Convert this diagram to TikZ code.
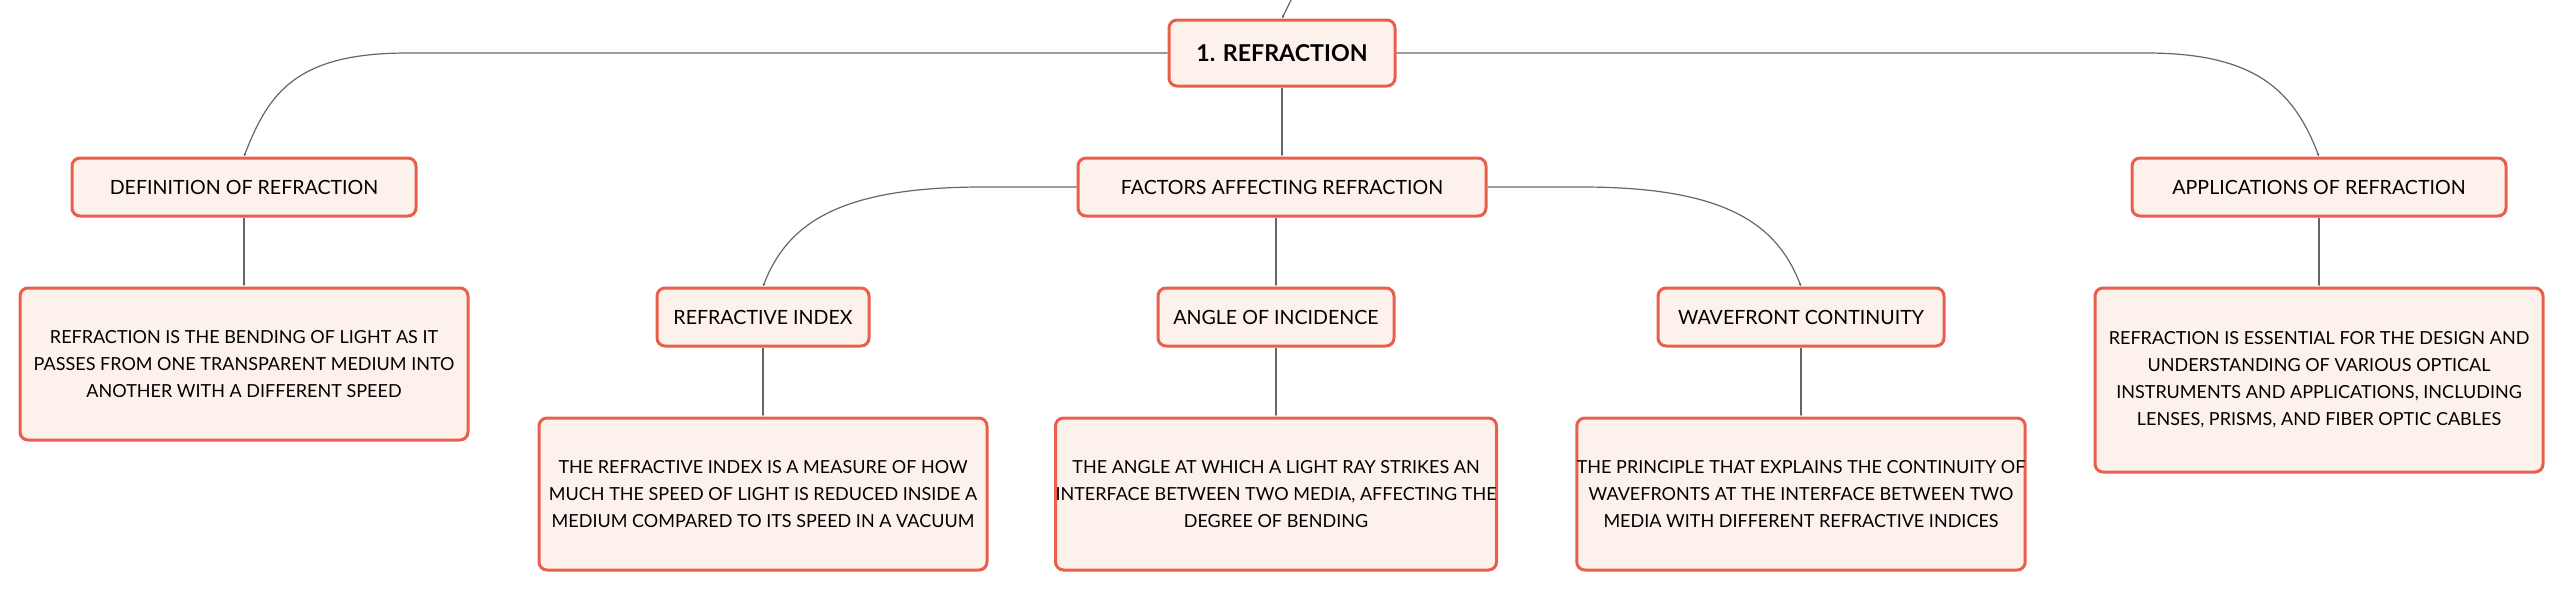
\documentclass[tikz,border=0pt]{standalone}
\usepackage{fontspec}
\setmainfont{Lato}
\usetikzlibrary{arrows.meta}
\definecolor{boxline}{HTML}{E8604C}
\definecolor{boxfill}{HTML}{FDF1EC}
\definecolor{linkgray}{HTML}{666666}
\begin{document}
\begin{tikzpicture}[x=0.5pt,y=-0.5pt,
		box/.style={draw=boxline,fill=boxfill,line width=1.5pt,rounded corners=4pt,align=center,inner sep=0pt,font=\fontsize{9}{13.5}\selectfont},
		head/.style={box,minimum height=29pt,font=\fontsize{9.8}{12}\selectfont},
		note/.style={box,minimum height=76pt},
		link/.style={draw=linkgray,line width=0.6pt,-{Latex[length=1.5pt,width=1.5pt]}}]
		\useasboundingbox (0,0) rectangle (2565,591);
		\node[box,minimum width=113pt,minimum height=33pt,font=\fontsize{11.6}{13}\selectfont\bfseries] (root) at (1282,53) {1. REFRACTION};
		\node[head,minimum width=172pt] (def) at (244,187) {DEFINITION OF REFRACTION};
		\node[head,minimum width=204pt] (fac) at (1282,187) {FACTORS AFFECTING REFRACTION};
		\node[head,minimum width=187pt] (app) at (2319,187) {APPLICATIONS OF REFRACTION};
		\node[note,minimum width=224pt] (deftxt) at (244,364) {REFRACTION IS THE BENDING OF LIGHT AS IT\\PASSES FROM ONE TRANSPARENT MEDIUM INTO\\ANOTHER WITH A DIFFERENT SPEED};
		\node[head,minimum width=106pt] (ri) at (763,317) {REFRACTIVE INDEX};
		\node[head,minimum width=118pt] (ang) at (1276,317) {ANGLE OF INCIDENCE};
		\node[head,minimum width=143pt] (wav) at (1801,317) {WAVEFRONT CONTINUITY};
		\node[note,minimum width=224pt] (ritxt) at (763,494) {THE REFRACTIVE INDEX IS A MEASURE OF HOW\\MUCH THE SPEED OF LIGHT IS REDUCED INSIDE A\\MEDIUM COMPARED TO ITS SPEED IN A VACUUM};
		\node[note,minimum width=216pt] (angtxt) at (1276,494) {THE ANGLE AT WHICH A LIGHT RAY STRIKES AN\\INTERFACE BETWEEN TWO MEDIA, AFFECTING THE\\DEGREE OF BENDING};
		\node[note,minimum width=224pt] (wavtxt) at (1801,494) {THE PRINCIPLE THAT EXPLAINS THE CONTINUITY OF\\WAVEFRONTS AT THE INTERFACE BETWEEN TWO\\MEDIA WITH DIFFERENT REFRACTIVE INDICES};
		\node[box,minimum width=224pt,minimum height=92pt] (apptxt) at (2319,380) {REFRACTION IS ESSENTIAL FOR THE DESIGN AND\\UNDERSTANDING OF VARIOUS OPTICAL\\INSTRUMENTS AND APPLICATIONS, INCLUDING\\LENSES, PRISMS, AND FIBER OPTIC CABLES};
		\coordinate (parent) at (1292,-2);
		\draw[link] (parent) -- (root.north);
		\draw[link] (root.west) -- ++(-760,0) .. controls +(-110,0) and +(25,-65) .. (def.north);
		\draw[link] (root.east) -- ++(750,0) .. controls +(110,0) and +(-25,-65) .. (app.north);
		\draw[link] (root.south) -- (fac.north);
		\draw[link] (fac.west) -- ++(-94,0) .. controls +(-140,0) and +(25,-65) .. (ri.north);
		\draw[link] (fac.east) -- ++(94,0) .. controls +(140,0) and +(-25,-65) .. (wav.north);
		\draw[link] (ang.north |- fac.south) -- (ang.north);
		\draw[link] (def.south) -- (deftxt.north);
		\draw[link] (app.south) -- (apptxt.north);
		\draw[link] (ri.south) -- (ritxt.north);
		\draw[link] (ang.south) -- (angtxt.north);
		\draw[link] (wav.south) -- (wavtxt.north);
	\end{tikzpicture}
\end{document}
